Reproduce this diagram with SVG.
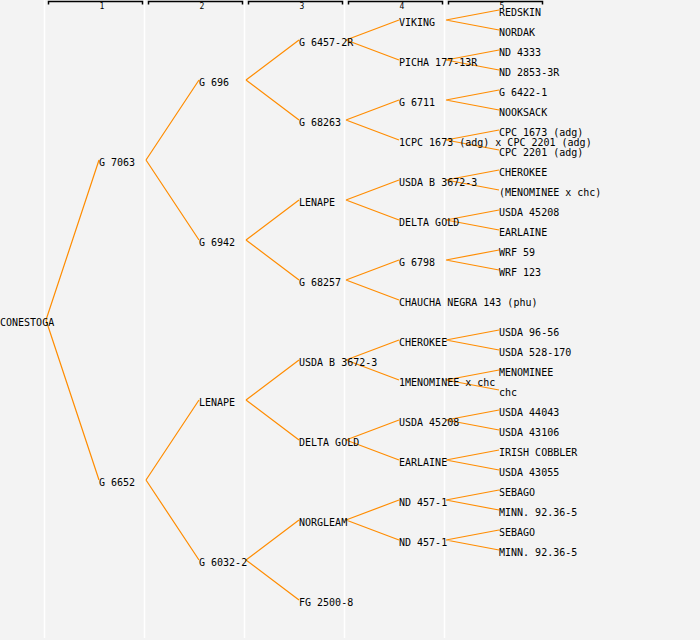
<svg xmlns="http://www.w3.org/2000/svg" width="700" height="640" viewBox="0 0 700 640">
<style>
text{font-family:"DejaVu Sans Mono","Liberation Mono",monospace;font-size:10px;fill:#000}
.hd{font-size:8px;text-anchor:middle}
.sep{stroke:#ffffff;stroke-width:1.5}
.br{fill:none;stroke:#000;stroke-width:1.5}
.c{stroke:#ff8c00;stroke-width:1.2;fill:none}
</style>
<rect width="700" height="640" fill="#f3f3f3"/>
<g id="grid">
<line class="sep" x1="44.5" y1="0" x2="44.5" y2="638"/>
<line class="sep" x1="144.5" y1="0" x2="144.5" y2="638"/>
<line class="sep" x1="244.5" y1="0" x2="244.5" y2="638"/>
<line class="sep" x1="344.5" y1="0" x2="344.5" y2="638"/>
<line class="sep" x1="444.5" y1="0" x2="444.5" y2="638"/>
</g>
<g id="header">
<path class="br" d="M48.5,4.5V1.5H142.5V4.5"/>
<path class="br" d="M148.5,4.5V1.5H242.5V4.5"/>
<path class="br" d="M248.5,4.5V1.5H342.5V4.5"/>
<path class="br" d="M348.5,4.5V1.5H442.5V4.5"/>
<path class="br" d="M448.5,4.5V1.5H542.5V4.5"/>
<text class="hd" x="102" y="9">1</text>
<text class="hd" x="202" y="9">2</text>
<text class="hd" x="302" y="9">3</text>
<text class="hd" x="402" y="9">4</text>
<text class="hd" x="502" y="9">5</text>
</g>
<g id="connectors">
<path class="c" d="M46,320L99,160M46,320L99,480"/>
<path class="c" d="M146,160L199,80M146,160L199,240M146,480L199,400M146,480L199,560"/>
<path class="c" d="M246,80L299,40M246,80L299,120M246,240L299,200M246,240L299,280M246,400L299,360M246,400L299,440M246,560L299,520M246,560L299,600"/>
<path class="c" d="M346,40L399,20M346,40L399,60M346,120L399,100M346,120L399,140M346,200L399,180M346,200L399,220M346,280L399,260M346,280L399,300M346,360L399,340M346,360L399,380M346,440L399,420M346,440L399,460M346,520L399,500M346,520L399,540"/>
<path class="c" d="M446,20L499,10M446,20L499,30M446,60L499,50M446,60L499,70M446,100L499,90M446,100L499,110M446,140L499,130M446,140L499,150M446,180L499,170M446,180L499,190M446,220L499,210M446,220L499,230M446,260L499,250M446,260L499,270M446,340L499,330M446,340L499,350M446,380L499,370M446,380L499,390M446,420L499,410M446,420L499,430M446,460L499,450M446,460L499,470M446,500L499,490M446,500L499,510M446,540L499,530M446,540L499,550"/>
</g>
<g id="n0"><text x="0" y="326">CONESTOGA</text></g>
<g id="n1a"><text x="99" y="166">G 7063</text></g>
<g id="n1b"><text x="99" y="486">G 6652</text></g>
<g id="n2a"><text x="199" y="86">G 696</text></g>
<g id="n2b"><text x="199" y="246">G 6942</text></g>
<g id="n2c"><text x="199" y="406">LENAPE</text></g>
<g id="n2d"><text x="199" y="566">G 6032-2</text></g>
<g id="n3a"><text x="299" y="46">G 6457-2R</text></g>
<g id="n3b"><text x="299" y="126">G 68263</text></g>
<g id="n3c"><text x="299" y="206">LENAPE</text></g>
<g id="n3d"><text x="299" y="286">G 68257</text></g>
<g id="n3e"><text x="299" y="366">USDA B 3672-3</text></g>
<g id="n3f"><text x="299" y="446">DELTA GOLD</text></g>
<g id="n3g"><text x="299" y="526">NORGLEAM</text></g>
<g id="n3h"><text x="299" y="606">FG 2500-8</text></g>
<g id="n4a"><text x="399" y="26">VIKING</text></g>
<g id="n4b"><text x="399" y="66">PICHA 177-13R</text></g>
<g id="n4c"><text x="399" y="106">G 6711</text></g>
<g id="n4d"><text x="399" y="146">1CPC 1673 (adg) x CPC 2201 (adg)</text></g>
<g id="n4e"><text x="399" y="186">USDA B 3672-3</text></g>
<g id="n4f"><text x="399" y="226">DELTA GOLD</text></g>
<g id="n4g"><text x="399" y="266">G 6798</text></g>
<g id="n4h"><text x="399" y="306">CHAUCHA NEGRA 143 (phu)</text></g>
<g id="n4i"><text x="399" y="346">CHEROKEE</text></g>
<g id="n4j"><text x="399" y="386">1MENOMINEE x chc</text></g>
<g id="n4k"><text x="399" y="426">USDA 45208</text></g>
<g id="n4l"><text x="399" y="466">EARLAINE</text></g>
<g id="n4m"><text x="399" y="506">ND 457-1</text></g>
<g id="n4n"><text x="399" y="546">ND 457-1</text></g>
<g id="n5a"><text x="499" y="16">REDSKIN</text></g>
<g id="n5b"><text x="499" y="36">NORDAK</text></g>
<g id="n5c"><text x="499" y="56">ND 4333</text></g>
<g id="n5d"><text x="499" y="76">ND 2853-3R</text></g>
<g id="n5e"><text x="499" y="96">G 6422-1</text></g>
<g id="n5f"><text x="499" y="116">NOOKSACK</text></g>
<g id="n5g"><text x="499" y="136">CPC 1673 (adg)</text></g>
<g id="n5h"><text x="499" y="156">CPC 2201 (adg)</text></g>
<g id="n5i"><text x="499" y="176">CHEROKEE</text></g>
<g id="n5j"><text x="499" y="196">(MENOMINEE x chc)</text></g>
<g id="n5k"><text x="499" y="216">USDA 45208</text></g>
<g id="n5l"><text x="499" y="236">EARLAINE</text></g>
<g id="n5m"><text x="499" y="256">WRF 59</text></g>
<g id="n5n"><text x="499" y="276">WRF 123</text></g>
<g id="n5o"><text x="499" y="336">USDA 96-56</text></g>
<g id="n5p"><text x="499" y="356">USDA 528-170</text></g>
<g id="n5q"><text x="499" y="376">MENOMINEE</text></g>
<g id="n5r"><text x="499" y="396">chc</text></g>
<g id="n5s"><text x="499" y="416">USDA 44043</text></g>
<g id="n5t"><text x="499" y="436">USDA 43106</text></g>
<g id="n5u"><text x="499" y="456">IRISH COBBLER</text></g>
<g id="n5v"><text x="499" y="476">USDA 43055</text></g>
<g id="n5w"><text x="499" y="496">SEBAGO</text></g>
<g id="n5x"><text x="499" y="516">MINN. 92.36-5</text></g>
<g id="n5y"><text x="499" y="536">SEBAGO</text></g>
<g id="n5z"><text x="499" y="556">MINN. 92.36-5</text></g>
</svg>
